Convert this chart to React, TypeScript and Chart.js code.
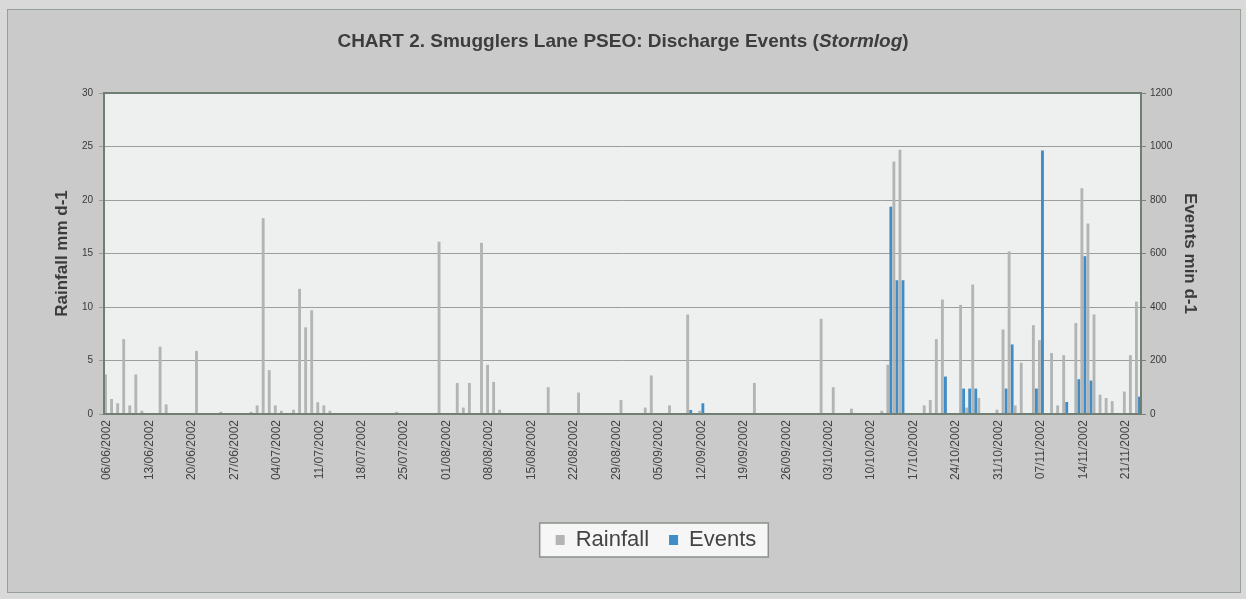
import React, { useEffect, useRef } from "react";
import { Chart, registerables } from "chart.js";

Chart.register(...registerables);

// ---- data ----
const titleMain = "CHART 2. Smugglers Lane PSEO: Discharge Events (";
const titleItalic = "Stormlog";
const titleEnd = ")";

const seriesNames = ["Rainfall", "Events"];
const leftAxisTitle = "Rainfall mm d-1";
const rightAxisTitle = "Events min d-1";

// daily categories from 06/06/2002 to 23/11/2002, a label every 7th day
const dayCount = 171;
const labelEvery = 7;
const dates: string[] = Array.from({ length: dayCount }, (_, i) => {
  const d = new Date(Date.UTC(2002, 5, 6 + i));
  const dd = String(d.getUTCDate()).padStart(2, "0");
  const mm = String(d.getUTCMonth() + 1).padStart(2, "0");
  return `${dd}/${mm}/${d.getUTCFullYear()}`;
});

// rainfall, mm per day (one row per week)
const rainfall: number[] = [
  3.7, 1.4, 1.0, 7.0, 0.8, 3.7, 0.3,
  0, 0, 6.3, 0.9, 0, 0, 0,
  0, 5.9, 0, 0, 0, 0.2, 0,
  0, 0, 0, 0.2, 0.8, 18.3, 4.1,
  0.8, 0.3, 0, 0.4, 11.7, 8.1, 9.7,
  1.1, 0.8, 0.3, 0, 0, 0, 0,
  0, 0, 0, 0, 0, 0, 0.2,
  0, 0, 0, 0, 0, 0, 16.1,
  0, 0, 2.9, 0.6, 2.9, 0, 16.0,
  4.6, 3.0, 0.4, 0, 0, 0, 0,
  0, 0, 0, 2.5, 0, 0, 0,
  0, 2.0, 0, 0, 0, 0, 0,
  0, 1.3, 0, 0, 0, 0.6, 3.6,
  0, 0, 0.8, 0, 0, 9.3, 0,
  0.3, 0, 0, 0, 0, 0, 0,
  0, 0, 2.9, 0, 0, 0, 0,
  0, 0, 0, 0, 0, 0, 8.9,
  0, 2.5, 0, 0, 0.5, 0, 0,
  0, 0, 0.3, 4.6, 23.6, 24.7, 0,
  0, 0, 0.8, 1.3, 7.0, 10.7, 0,
  0, 10.2, 0.6, 12.1, 1.5, 0, 0,
  0.4, 7.9, 15.2, 0.8, 4.8, 0, 8.3,
  6.9, 0, 5.7, 0.8, 5.5, 0, 8.5,
  21.1, 17.8, 9.3, 1.8, 1.5, 1.2, 0,
  2.1, 5.5, 10.5,
];

// discharge events, minutes per day (one row per week)
const events: number[] = [
  0, 0, 0, 0, 0, 0, 0,
  0, 0, 0, 0, 0, 0, 0,
  0, 0, 0, 0, 0, 0, 0,
  0, 0, 0, 0, 0, 0, 0,
  0, 0, 0, 0, 0, 0, 0,
  0, 0, 0, 0, 0, 0, 0,
  0, 0, 0, 0, 0, 0, 0,
  0, 0, 0, 0, 0, 0, 0,
  0, 0, 0, 0, 0, 0, 0,
  0, 0, 0, 0, 0, 0, 0,
  0, 0, 0, 0, 0, 0, 0,
  0, 0, 0, 0, 0, 0, 0,
  0, 0, 0, 0, 0, 0, 0,
  0, 0, 0, 0, 0, 15, 0,
  40, 0, 0, 0, 0, 0, 0,
  0, 0, 0, 0, 0, 0, 0,
  0, 0, 0, 0, 0, 0, 0,
  0, 0, 0, 0, 0, 0, 0,
  0, 0, 0, 775, 500, 500, 0,
  0, 0, 0, 0, 0, 140, 0,
  0, 95, 95, 95, 0, 0, 0,
  0, 95, 260, 0, 0, 0, 95,
  985, 0, 0, 0, 45, 0, 130,
  590, 125, 0, 0, 0, 0, 0,
  0, 0, 65,
];

const rainfallAxis = { min: 0, max: 30, step: 5 };
const eventsAxis = { min: 0, max: 1200, step: 200 };

const FONT = "'Liberation Sans', Arial, sans-serif";

export default function App() {
  const canvasRef = useRef<HTMLCanvasElement>(null);

  useEffect(() => {
    const canvas = canvasRef.current;
    if (!canvas) return;
    const legendShift = 33;

    const decor = {
      id: "decor",
      afterLayout(chart: any) {
        const lg = chart.legend;
        if (lg) {
          lg.left += legendShift;
          lg.right += legendShift;
        }
      },
      beforeDraw(chart: any) {
        const { ctx, chartArea: a } = chart;
        ctx.save();
        ctx.fillStyle = "#eef0ef";
        ctx.fillRect(a.left, a.top, a.right - a.left, a.bottom - a.top);
        const lg = chart.legend;
        if (lg && lg.legendHitBoxes && lg.legendHitBoxes.length) {
          const hb = lg.legendHitBoxes;
          const first = hb[0];
          const last = hb[hb.length - 1];
          const x0 = first.left - 16;
          const x1 = last.left + last.width + 12;
          const cy = first.top + first.height / 2;
          ctx.fillStyle = "#f5f6f5";
          ctx.fillRect(x0, cy - 17, x1 - x0, 34);
          ctx.strokeStyle = "#8b918b";
          ctx.lineWidth = 1.5;
          ctx.strokeRect(x0, cy - 17, x1 - x0, 34);
        }
        ctx.restore();
      },
      afterDatasetsDraw(chart: any) {
        const { ctx, chartArea: a } = chart;
        ctx.save();
        ctx.strokeStyle = "#6f7f72";
        ctx.lineWidth = 2;
        ctx.strokeRect(a.left, a.top, a.right - a.left, a.bottom - a.top);
        ctx.restore();
      },
    };

    const chart = new Chart(canvas, {
      type: "bar",
      data: {
        labels: dates,
        datasets: [
          {
            label: seriesNames[0],
            data: rainfall,
            backgroundColor: "#b3b5b5",
            yAxisID: "y",
            categoryPercentage: 1.0,
            barPercentage: 0.95,
          },
          {
            label: seriesNames[1],
            data: events,
            backgroundColor: "#3f8cc6",
            yAxisID: "y1",
            categoryPercentage: 1.0,
            barPercentage: 0.95,
          },
        ],
      },
      options: {
        responsive: false,
        animation: false,
        layout: { padding: { top: 93, bottom: 38, left: 0, right: 0 } },
        plugins: {
          legend: {
            position: "bottom",
            labels: {
              boxWidth: 9,
              boxHeight: 10,
              padding: 20,
              color: "#444444",
              font: { family: FONT, size: 22 },
            },
          },
          tooltip: { enabled: false },
          title: { display: false },
        },
        scales: {
          x: {
            grid: { display: false, drawTicks: false },
            border: { display: false },
            ticks: {
              autoSkip: false,
              minRotation: 90,
              maxRotation: 90,
              padding: 6,
              color: "#444444",
              font: { family: FONT, size: 12 },
              callback: (_v: any, i: number) => (i % labelEvery === 0 ? dates[i] : ""),
            },
            afterFit: (s: any) => {
              s.height = 95;
            },
          },
          y: {
            position: "left",
            min: rainfallAxis.min,
            max: rainfallAxis.max,
            ticks: {
              stepSize: rainfallAxis.step,
              padding: 6,
              color: "#3a3a3a",
              font: { family: FONT, size: 10 },
            },
            grid: { color: "#9b9e9b", tickLength: 5 },
            border: { display: false },
            title: {
              display: true,
              text: leftAxisTitle,
              color: "#3c3c3c",
              font: { family: FONT, size: 17, weight: "bold" },
              padding: { top: 52, bottom: 0 },
            },
            afterFit: (s: any) => {
              s.width = 104;
            },
          },
          y1: {
            position: "right",
            min: eventsAxis.min,
            max: eventsAxis.max,
            ticks: {
              stepSize: eventsAxis.step,
              padding: 4,
              color: "#3a3a3a",
              font: { family: FONT, size: 10 },
              callback: (v: any) => String(v),
            },
            grid: { drawOnChartArea: false, color: "#7a847a", tickLength: 5 },
            border: { display: false },
            title: {
              display: true,
              text: rightAxisTitle,
              color: "#3c3c3c",
              font: { family: FONT, size: 17, weight: "bold" },
              padding: { top: 46, bottom: 0 },
            },
            afterFit: (s: any) => {
              s.width = 105;
            },
          },
        },
      },
      plugins: [decor],
    } as any);

    return () => chart.destroy();
  }, []);

  return (
    <div
      style={{
        position: "absolute",
        left: 0,
        top: 0,
        width: 1246,
        height: 599,
        background: "#d8d9d8",
        overflow: "hidden",
      }}
    >
      <div
        style={{
          position: "absolute",
          left: 7,
          top: 9,
          width: 1232,
          height: 582,
          background: "#c9cac9",
          border: "1px solid #97a097",
        }}
      />
      <canvas
        ref={canvasRef}
        width={1246}
        height={599}
        style={{ position: "absolute", left: 0, top: 0 }}
      />
      <div
        style={{
          position: "absolute",
          left: 0,
          top: 30,
          width: 1246,
          textAlign: "center",
          fontFamily: FONT,
          fontWeight: "bold",
          fontSize: 19,
          lineHeight: "22px",
          color: "#3d3d3d",
        }}
      >
        {titleMain}
        <i>{titleItalic}</i>
        {titleEnd}
      </div>
    </div>
  );
}
